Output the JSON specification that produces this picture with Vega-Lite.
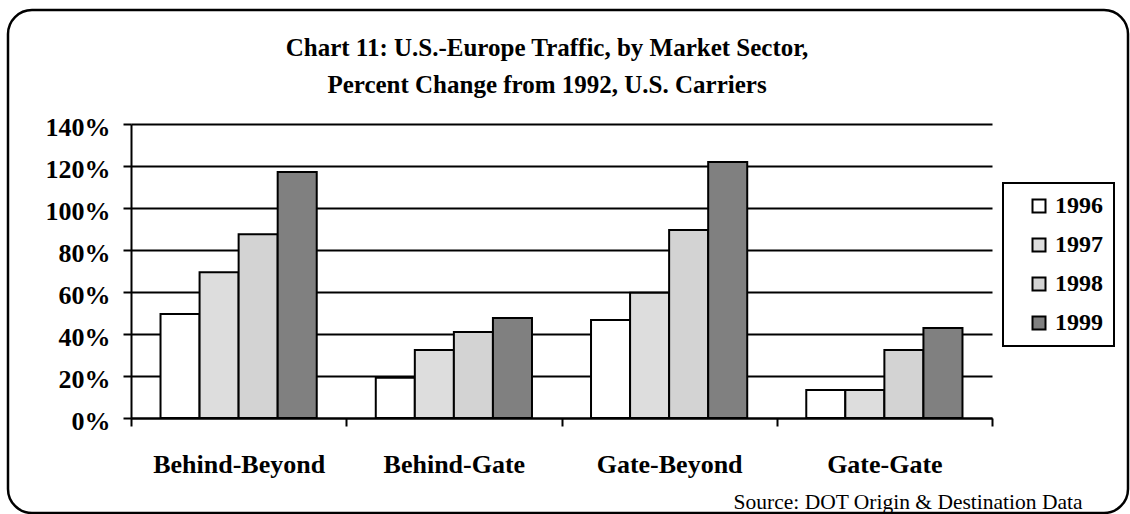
{
  "$schema": "https://vega.github.io/schema/vega-lite/v6.json",
  "autosize": "none",
  "width": 1120,
  "height": 503,
  "padding": {"left": 8, "top": 10, "right": 2, "bottom": 1},
  "background": "white",
  "title": {
    "text": ["Chart 11: U.S.-Europe Traffic, by Market Sector,", "Percent Change from 1992, U.S. Carriers"],
    "font": "Liberation Serif",
    "fontSize": 25,
    "fontWeight": "bold",
    "color": "black",
    "anchor": "middle",
    "frame": "group",
    "baseline": "top",
    "dx": -21,
    "offset": -88,
    "lineHeight": 37
  },
  "data": {
    "values": [
      {"sector": "Behind-Beyond", "year": "1996", "change": 0.495},
      {"sector": "Behind-Beyond", "year": "1997", "change": 0.694},
      {"sector": "Behind-Beyond", "year": "1998", "change": 0.875},
      {"sector": "Behind-Beyond", "year": "1999", "change": 1.171},
      {"sector": "Behind-Gate", "year": "1996", "change": 0.192},
      {"sector": "Behind-Gate", "year": "1997", "change": 0.324},
      {"sector": "Behind-Gate", "year": "1998", "change": 0.41},
      {"sector": "Behind-Gate", "year": "1999", "change": 0.476},
      {"sector": "Gate-Beyond", "year": "1996", "change": 0.467},
      {"sector": "Gate-Beyond", "year": "1997", "change": 0.597},
      {"sector": "Gate-Beyond", "year": "1998", "change": 0.895},
      {"sector": "Gate-Beyond", "year": "1999", "change": 1.219},
      {"sector": "Gate-Gate", "year": "1996", "change": 0.133},
      {"sector": "Gate-Gate", "year": "1997", "change": 0.133},
      {"sector": "Gate-Gate", "year": "1998", "change": 0.324},
      {"sector": "Gate-Gate", "year": "1999", "change": 0.429}
    ]
  },
  "mark": {"type": "bar", "stroke": "black", "strokeWidth": 2},
  "encoding": {
    "x": {
      "field": "sector",
      "type": "nominal",
      "sort": null,
      "scale": {"paddingInner": 0, "paddingOuter": 0, "range": [123, 984]},
      "axis": {
        "offset": -95,
        "title": "Source: DOT Origin & Destination Data",
        "titleFont": "Liberation Serif",
        "titleFontSize": 21.5,
        "titleFontWeight": "normal",
        "titleColor": "black",
        "titleAlign": "right",
        "titleAnchor": "end",
        "titleX": 1074,
        "titleY": 90,
        "titleBaseline": "alphabetic",
        "labelAngle": 0,
        "labelFont": "Liberation Serif",
        "labelFontSize": 26,
        "labelFontWeight": "bold",
        "labelColor": "black",
        "labelBaseline": "alphabetic",
        "labelPadding": 46,
        "tickBand": "extent",
        "tickSize": 8,
        "tickColor": "black",
        "tickWidth": 2,
        "domainColor": "black",
        "domainWidth": 2,
        "grid": false
      }
    },
    "xOffset": {
      "field": "year",
      "type": "nominal",
      "scale": {"paddingInner": 0, "paddingOuter": 0.756}
    },
    "y": {
      "field": "change",
      "type": "quantitative",
      "scale": {"domain": [0, 1.4], "nice": false, "range": [408, 114]},
      "axis": {
        "offset": -123,
        "title": null,
        "format": ".0%",
        "values": [0, 0.2, 0.4, 0.6, 0.8, 1.0, 1.2, 1.4],
        "labelFont": "Liberation Serif",
        "labelFontSize": 26,
        "labelFontWeight": "bold",
        "labelColor": "black",
        "labelBaseline": "alphabetic",
        "labelOffset": 11,
        "labelPadding": 13,
        "tickSize": 8,
        "tickColor": "black",
        "tickWidth": 2,
        "domainColor": "black",
        "domainWidth": 2,
        "grid": true,
        "gridColor": "black",
        "gridWidth": 2,
        "gridOpacity": 1
      }
    },
    "fill": {
      "field": "year",
      "type": "nominal",
      "scale": {"domain": ["1996", "1997", "1998", "1999"], "range": ["#ffffff", "#dddddd", "#d3d3d3", "#808080"]},
      "legend": {
        "title": null,
        "orient": "none",
        "legendX": 995,
        "legendY": 173,
        "symbolType": "square",
        "symbolSize": 169,
        "symbolStrokeColor": "black",
        "symbolStrokeWidth": 2,
        "symbolOffset": 13,
        "labelFont": "Liberation Serif",
        "labelFontSize": 24,
        "labelFontWeight": "bold",
        "labelColor": "black",
        "labelOffset": 4,
        "labelBaseline": "middle",
        "labelExpr": "datum.label + '   '",
        "rowPadding": 15
      }
    }
  },
  "config": {
    "view": {"stroke": "black", "strokeWidth": 2.5, "cornerRadius": 24},
    "legend": {
      "strokeColor": "black",
      "strokeWidth": 2,
      "padding": 11,
      "fillColor": "white"
    }
  }
}
